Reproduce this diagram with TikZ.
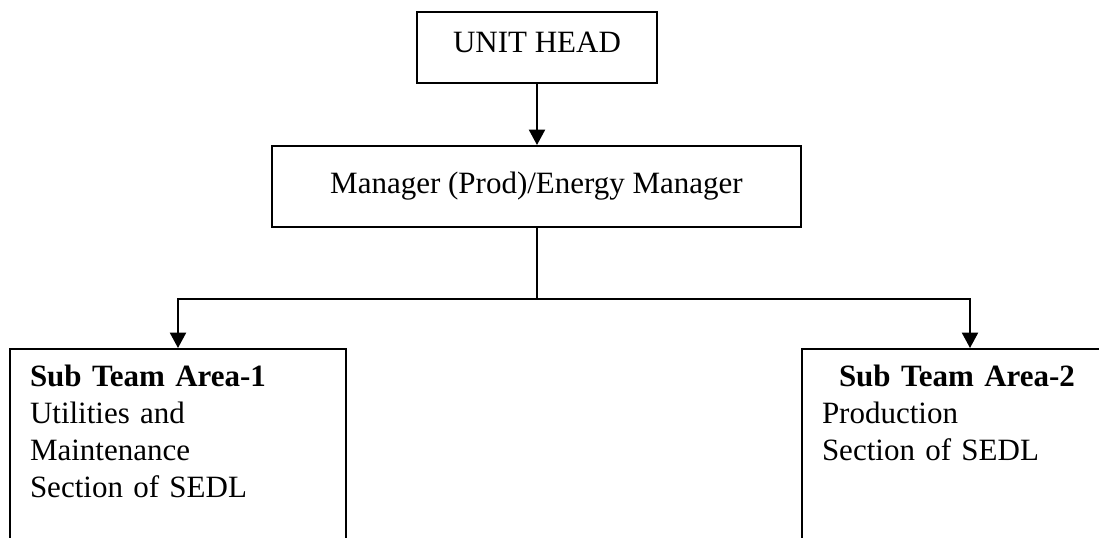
\documentclass[tikz,border=0pt]{standalone}
\usepackage{fontspec}
\setmainfont{Liberation Serif}
\usetikzlibrary{arrows.meta}
\begin{document}
\begin{tikzpicture}[x=0.75pt,y=-0.75pt,line width=1.5pt,
  box/.style={draw,line width=1.5pt,rectangle,inner sep=0pt},
  arr/.style={-{Triangle[length=11.5pt,width=12pt]}},
  txt/.style={font=\fontsize{23.25}{27.75}\selectfont},
  subtext/.style={txt,anchor=base west,text width=240pt,align=left,inner sep=0pt}]
\useasboundingbox (0,0) rectangle (1099,537);
\clip (0,0) rectangle (1099,537);
\node[box,txt,minimum width=180pt,minimum height=53.25pt,text height=15pt,text depth=8.25pt] (head) at (537,47.5) {UNIT HEAD};
\node[box,txt,minimum width=396.75pt,minimum height=60.75pt,text height=15pt,text depth=5.25pt] (mgr) at (536.5,186.5) {Manager (Prod)/Energy Manager};
\node[box,anchor=north west,minimum width=252pt,minimum height=187.5pt] (sub1) at (9,348) {};
\node[box,anchor=north west,minimum width=252pt,minimum height=187.5pt] (sub2) at (801,348) {};
\node[subtext] (t1) at (29,386) {\textbf{Sub Team Area-1}\\Utilities and\\Maintenance\\Section of SEDL};
\node[subtext] (t2) at (821,386) {\hspace*{12.75pt}\textbf{Sub Team Area-2}\\Production\\Section of SEDL};
\coordinate (j) at (537,299);
\draw[arr] (head.south) -- (head.south |- mgr.north);
\draw (mgr.south -| j) -- (j);
\draw[arr] (j) -| (sub1.north);
\draw[arr] (j) -| (sub2.north);
\end{tikzpicture}
\end{document}
